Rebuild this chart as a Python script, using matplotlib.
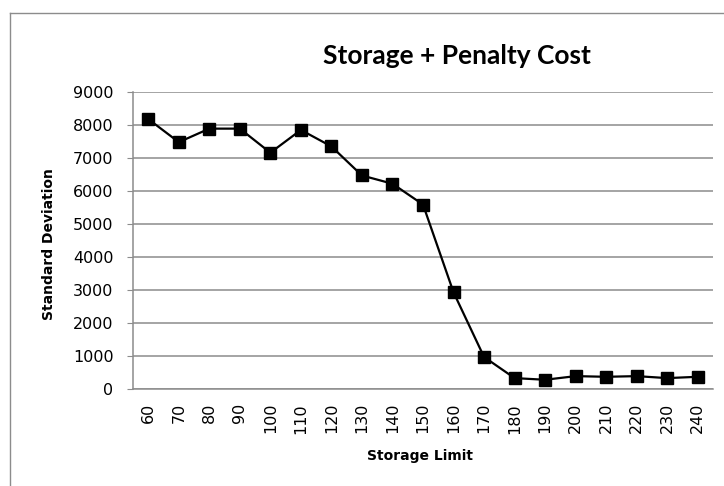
import matplotlib.pyplot as plt
from matplotlib.lines import Line2D

# storage limit categories and std deviation values
limits = [60, 70, 80, 90, 100, 110, 120, 130, 140, 150, 160, 170, 180, 190, 200, 210, 220, 230, 240]
std_dev = [8180, 7480, 7890, 7890, 7160, 7850, 7350, 6470, 6220, 5590, 2930, 970, 330, 280, 390, 370, 390, 330, 370]
y_ticks = [0, 1000, 2000, 3000, 4000, 5000, 6000, 7000, 8000, 9000]

plt.rcParams['font.family'] = ['DejaVu Sans']

fig = plt.figure(figsize=(7.24, 4.86), dpi=100)
ax = fig.add_axes([133 / 724, 1 - 389 / 486, 580 / 724, 297 / 486])

x = list(range(len(limits)))
ax.plot(x, std_dev, color='black', linewidth=1.6, marker='s', markersize=8,
        markerfacecolor='black', markeredgecolor='black')

ax.set_xlim(-0.5, len(limits) - 0.5)
ax.set_ylim(0, 9000)
ax.set_yticks(y_ticks)
ax.set_yticklabels([str(v) for v in y_ticks], fontsize=11.5)
ax.set_xticks(x)
ax.set_xticklabels([str(v) for v in limits], rotation=90, fontsize=11.5)
ax.tick_params(axis='x', length=0, pad=10)
ax.tick_params(axis='y', length=4, color='#8c8c8c', pad=10)

ax.grid(axis='y', color='#8c8c8c', linewidth=1.1)
ax.set_axisbelow(True)
for s in ['top', 'right']:
    ax.spines[s].set_visible(False)
ax.spines['left'].set_color('#8c8c8c')
ax.spines['bottom'].set_color('#8c8c8c')
ax.spines['left'].set_linewidth(1.1)
ax.spines['bottom'].set_linewidth(1.1)

fig.text(457 / 724, 1 - 56 / 486, 'Storage + Penalty Cost', ha='center', va='center',
         fontsize=19, fontweight='bold', family=['Lato', 'DejaVu Sans'])
fig.text(420 / 724, 1 - 456 / 486, 'Storage Limit', ha='center', va='center',
         fontsize=10, fontweight='bold')
fig.text(49 / 724, 1 - 244 / 486, 'Standard Deviation', ha='center', va='center',
         rotation=90, fontsize=10, fontweight='bold')

# outer chart border
fig.add_artist(Line2D([10 / 724, 1], [1 - 13 / 486, 1 - 13 / 486], color='#8c8c8c', linewidth=1))
fig.add_artist(Line2D([10 / 724, 10 / 724], [0, 1 - 13 / 486], color='#8c8c8c', linewidth=1))

fig.savefig('out.png', dpi=100)
